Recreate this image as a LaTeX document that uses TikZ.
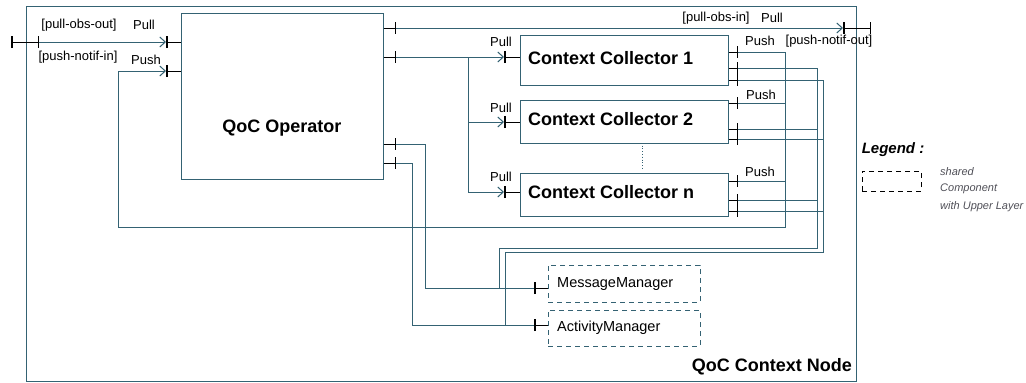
\documentclass[tikz,border=0pt]{standalone}
\usepackage{fontspec}
\setmainfont{Liberation Sans}
\usetikzlibrary{arrows.meta,calc}
\definecolor{ln}{RGB}{52,98,115}
\definecolor{lgtext}{RGB}{80,80,88}
\begin{document}
\begin{tikzpicture}[x=1pt,y=-1pt,
 box/.style={draw=ln,line width=1pt,inner sep=0pt},
 dbox/.style={draw=ln,line width=1pt,inner sep=0pt,dash pattern=on 5pt off 4pt},
 conn/.style={draw=ln,line width=1pt},
 stub/.style={draw=black,line width=1pt,-{Bar[width=12pt,line width=1.5pt]}},
 ext/.style={draw=black,line width=1pt,{Bar[width=12pt,line width=1.5pt]}-{Bar[width=12pt,line width=1.5pt]}},
 arr/.style={conn,-{Straight Barb[length=5.5pt,width=10pt]}},
 lbl/.style={font=\fontsize{13}{14}\selectfont,inner sep=0pt},
 big/.style={font=\fontsize{18}{20}\selectfont\bfseries,inner sep=0pt},
 mid/.style={font=\fontsize{14.5}{16}\selectfont,inner sep=0pt},
 leg/.style={font=\fontsize{11}{12}\selectfont\itshape,inner sep=0pt,text=lgtext,anchor=west},
 ]
\useasboundingbox (0,0) rectangle (1026,383);

% boxes
\node[box,minimum width=830pt,minimum height=375pt] (outer) at (441,193.5) {};
\node[box,minimum width=202pt,minimum height=166pt] (op) at (282,96) {};
\node[box,minimum width=208pt,minimum height=50pt] (cc1) at (624,60) {};
\node[box,minimum width=208pt,minimum height=43pt] (cc2) at (624,121.5) {};
\node[box,minimum width=208pt,minimum height=43pt] (ccn) at (624,194.5) {};
\node[dbox,minimum width=152pt,minimum height=37pt] (mm) at (624,283.5) {};
\node[dbox,minimum width=152pt,minimum height=36pt] (am) at (624,328) {};

% box texts
\node[big] (optext) at (282,128) {QoC Operator};
\node[big,anchor=west] (cc1t) at (528,58) {Context Collector 1};
\node[big,anchor=west] (cc2t) at (528,119) {Context Collector 2};
\node[big,anchor=west] (ccnt) at (528,192) {Context Collector n};
\node[mid,anchor=west] (mmt) at (557,284) {MessageManager};
\node[mid,anchor=west] (amt) at (557,328) {ActivityManager};
\node[big,anchor=east] (nodet) at (852,367) {QoC Context Node};

% port coordinates
\coordinate (opLa) at (166,42);
\coordinate (opLb) at (166,71);
\coordinate (opRa) at (396,28);
\coordinate (opRb) at (396,57);
\coordinate (opRc) at (396,144);
\coordinate (opRd) at (396,163);
\coordinate (cc1L) at (504,57);
\coordinate (cc2L) at (504,122);
\coordinate (ccnL) at (504,192);
\coordinate (cc1P) at (738,52);
\coordinate (cc1A) at (738,68);
\coordinate (cc1B) at (738,80);
\coordinate (cc2P) at (738,103);
\coordinate (cc2A) at (738,129);
\coordinate (cc2B) at (738,139);
\coordinate (ccnP) at (738,181);
\coordinate (ccnA) at (738,200);
\coordinate (ccnB) at (738,211);
\coordinate (mmT) at (534,288);
\coordinate (amT) at (534,325);
\coordinate (extL1) at (11,42);
\coordinate (extL2) at (39,42);
\coordinate (extR1) at (843,28);
\coordinate (extR2) at (871,28);

% stubs
\draw[stub] (op.west |- opLa) -- (opLa);
\draw[stub] (op.west |- opLb) -- (opLb);
\draw[stub] (op.east |- opRa) -- (opRa);
\draw[stub] (op.east |- opRb) -- (opRb);
\draw[stub] (op.east |- opRc) -- (opRc);
\draw[stub] (op.east |- opRd) -- (opRd);
\draw[stub] (cc1.west |- cc1L) -- (cc1L);
\draw[stub] (cc2.west |- cc2L) -- (cc2L);
\draw[stub] (ccn.west |- ccnL) -- (ccnL);
\foreach \p in {cc1P,cc1A,cc1B}{\draw[stub] (cc1.east |- \p) -- (\p);}
\foreach \p in {cc2P,cc2A,cc2B}{\draw[stub] (cc2.east |- \p) -- (\p);}
\foreach \p in {ccnP,ccnA,ccnB}{\draw[stub] (ccn.east |- \p) -- (\p);}
\draw[stub] (mm.west |- mmT) -- (mmT);
\draw[stub] (am.west |- amT) -- (amT);
\draw[ext] (extL1) -- (extL2);
\draw[ext] (extR1) -- (extR2);

% connectors
\draw[arr] (extL2) -- (opLa);
\draw[arr] (opRa) -- (extR1);
\coordinate (jp) at (468,57);
\draw[arr] (opRb) -- (cc1L);
\draw[arr] (jp) |- (ccnL);
\draw[arr] (jp |- cc2L) -- (cc2L);

\coordinate (pbB) at (785,227);
\coordinate (pbL) at (118,227);
\draw[arr] (cc1P) -| (pbB) -- (pbL) |- (opLb);
\draw[conn] (cc2P) -- (cc2P -| pbB);
\draw[conn] (ccnP) -- (ccnP -| pbB);

\coordinate (busA) at (817,248);
\coordinate (mmJ) at (499,288);
\draw[conn] (cc1A) -| (busA) -| (mmJ);
\draw[conn] (cc2A) -- (cc2A -| busA);
\draw[conn] (ccnA) -- (ccnA -| busA);

\coordinate (busB) at (823,252);
\coordinate (amJ) at (505,325);
\draw[conn] (cc1B) -| (busB) -| (amJ);
\draw[conn] (cc2B) -- (cc2B -| busB);
\draw[conn] (ccnB) -- (ccnB -| busB);

\coordinate (oc) at (425,288);
\coordinate (od) at (412,325);
\draw[conn] (opRc) -| (oc) -- (mmT);
\draw[conn] (opRd) -| (od) -- (amT);

\draw[ln,line width=0.8pt,dotted] ($(cc2.south)+(18,2)$) -- ($(ccn.north)+(18,-2)$);

% labels
\node[lbl] (l1) at (79,25) {[pull-obs-out]};
\node[lbl] (l2) at (144,25) {Pull};
\node[lbl] (l3) at (78,57) {[push-notif-in]};
\node[lbl] (l4) at (146,60) {Push};
\node[lbl] (l5) at (716,18) {[pull-obs-in]};
\node[lbl] (l6) at (772,18) {Pull};
\node[lbl] (l7) at (829,41) {[push-notif-out]};
\node[lbl] (l8) at (501,42) {Pull};
\node[lbl] (l9) at (501,108) {Pull};
\node[lbl] (l10) at (501,177) {Pull};
\node[lbl] (l11) at (760,41) {Push};
\node[lbl] (l12) at (761,95) {Push};
\node[lbl] (l13) at (760,172) {Push};

% legend
\node[font=\fontsize{15}{16}\selectfont\bfseries\itshape,inner sep=0pt] (legt) at (893,150) {Legend :};
\node[draw=black,line width=0.7pt,dash pattern=on 5pt off 4pt,minimum width=59pt,minimum height=20pt,inner sep=0pt] (legbox) at (891.5,181) {};
\node[leg] (lg1) at (940,172) {shared};
\node[leg] (lg2) at (940,189) {Component};
\node[leg] (lg3) at (940,207) {with Upper Layer};
\end{tikzpicture}
\end{document}
